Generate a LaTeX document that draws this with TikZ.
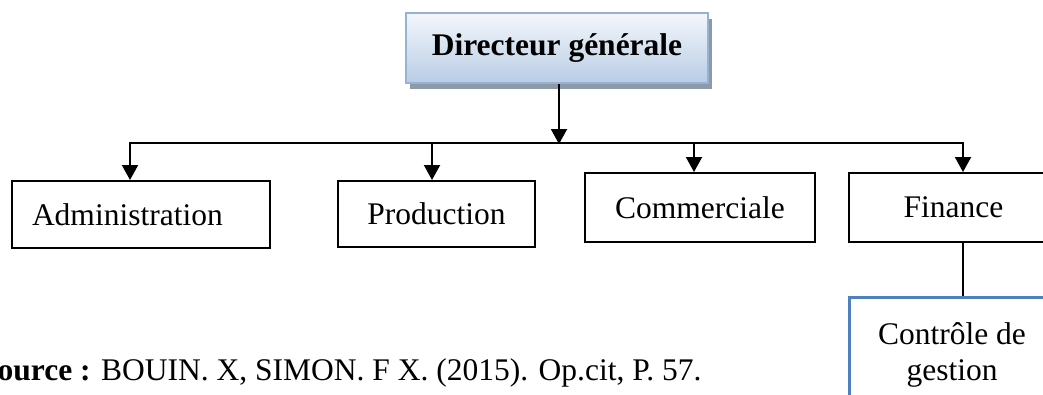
\documentclass[tikz,border=0pt]{standalone}
\usepackage{fontspec}
\setmainfont{Liberation Serif}
\usetikzlibrary{arrows.meta,shadows}
\definecolor{headtop}{HTML}{F4F7FC}
\definecolor{headbottom}{HTML}{B8CCE4}
\definecolor{headline}{HTML}{95B3D7}
\definecolor{headshadow}{HTML}{8D99A9}
\definecolor{ctlblue}{HTML}{4F81BD}
\newcommand{\bodysize}{\fontsize{31.5}{36}\selectfont}
\begin{document}
\begin{tikzpicture}[x=1pt,y=-1pt,
  unitbox/.style={draw=black, line width=2pt, rectangle, inner sep=0pt,
    font=\bodysize},
  headbox/.style={draw=headline, line width=2pt, rectangle, inner sep=0pt,
    top color=headtop, bottom color=headbottom,
    drop shadow={shadow xshift=4pt, shadow yshift=-6pt, fill=headshadow, opacity=1},
    font=\bodysize\bfseries},
  ctlbox/.style={draw=ctlblue, line width=3pt, rectangle, inner sep=0pt},
  link/.style={line width=2pt},
  arr/.style={line width=2pt, -{Triangle[width=16pt,length=15pt]}}]
\clip (0,0) rectangle (1043,394);

% director
\node[headbox, minimum width=302pt, minimum height=70pt] (dg) at (557,48) {Directeur générale};

% departments
\node[unitbox, minimum width=258pt, minimum height=67pt, text width=218pt, align=left]
  (admin) at (141,214.5) {Administration};
\node[unitbox, minimum width=197pt, minimum height=66pt] (prod) at (436.5,214) {Production};
\node[unitbox, minimum width=230pt, minimum height=69pt] (comm) at (700,207.5) {Commerciale};
\node[unitbox, minimum width=209pt, minimum height=69pt] (fin) at (953.5,207.5) {Finance};

% management control (the base anchor sits on the last line)
\node[ctlbox, minimum width=211pt, minimum height=124pt, anchor=north] (ctl) at (954.5,296) {};
\node[font=\bodysize, align=center, anchor=base, inner sep=0pt] (ctltext) at (952,380)
  {Contrôle de\\gestion};

% distribution bus
\coordinate (hub) at (559,143);
\coordinate (b1) at (130,143);
\coordinate (b2) at (432,143);
\coordinate (b3) at (694,143);
\coordinate (b4) at (963,143);

\draw[arr] (dg.south -| hub) -- ([yshift=-1pt]hub);
\draw[link] ([xshift=-1pt]b1) -- ([xshift=1pt]b4);
\draw[arr] (b1) -- (b1 |- admin.north);
\draw[arr] (b2) -- (b2 |- prod.north);
\draw[arr] (b3) -- (b3 |- comm.north);
\draw[arr] (b4) -- (b4 |- fin.north);
\draw[link] (b4 |- fin.south) -- (b4 |- ctl.north);

% source line
\node[anchor=base west, inner sep=0pt, font=\bodysize] (src) at (-20,380)
  {\textbf{Source :} BOUIN. X, SIMON. F X. (2015). Op.cit, P. 57.};
\end{tikzpicture}
\end{document}
